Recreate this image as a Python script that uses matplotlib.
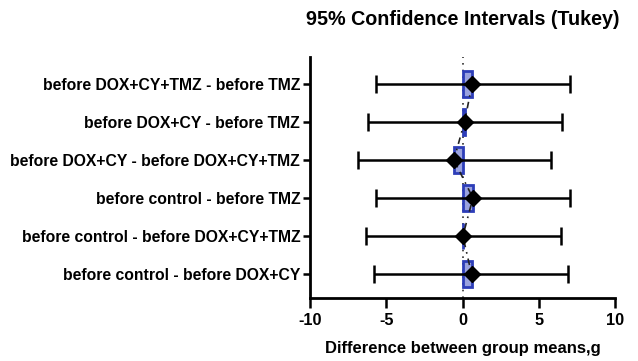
import matplotlib
matplotlib.use("Agg")
import matplotlib.pyplot as plt
import numpy as np

plt.rcParams['font.family'] = ['Liberation Sans', 'DejaVu Sans']
plt.rcParams['font.weight'] = 'bold'
plt.rcParams['axes.unicode_minus'] = False

labels = [
    "before DOX+CY+TMZ - before TMZ",
    "before DOX+CY - before TMZ",
    "before DOX+CY - before DOX+CY+TMZ",
    "before control - before TMZ",
    "before control - before DOX+CY+TMZ",
    "before control - before DOX+CY",
]
means = [0.63, 0.13, -0.57, 0.68, 0.02, 0.59]
lower = [-5.66, -6.18, -6.86, -5.66, -6.36, -5.84]
upper = [7.04, 6.49, 5.81, 7.04, 6.43, 6.93]

fig = plt.figure(figsize=(6.38, 3.61), dpi=100)
ax = fig.add_axes([0.486, 0.1745, 0.478, 0.667])

n = len(labels)
ypos = np.arange(n, 0, -1)
means_a = np.array(means)
lo = means_a - np.array(lower)
hi = np.array(upper) - means_a

ax.axvline(0, color='#333333', linestyle=(0, (1, 3)), lw=1.2, zorder=1)
ax.barh(ypos, means_a, height=0.68, color='#9aa2de', edgecolor='#2d3db8', lw=2, zorder=2)
ax.plot(means_a, ypos, color='#222222', linestyle=(0, (4, 3, 1, 3)), lw=1.2, zorder=3)
ax.errorbar(means_a, ypos, xerr=[lo, hi], fmt='D', color='black', ms=8,
            ecolor='black', elinewidth=1.8, capsize=6.5, capthick=1.8, zorder=4)

ax.set_xlim(-10, 10)
ax.set_ylim(0.37, 6.70)
ax.set_xticks([-10, -5, 0, 5, 10])
ax.set_yticks(ypos)
ax.set_yticklabels(labels)
ax.tick_params(axis='y', labelsize=11.3, width=1.8, length=5, direction='out', pad=2)
ax.tick_params(axis='x', labelsize=11.8, width=1.8, length=7, direction='out', pad=4)
for s in ['top', 'right']:
    ax.spines[s].set_visible(False)
for s in ['left', 'bottom']:
    ax.spines[s].set_linewidth(2)

ax.set_xlabel("Difference between group means,g", fontsize=12, fontweight='bold', labelpad=9)
ax.set_title("95% Confidence Intervals (Tukey)", fontsize=14.2, fontweight='bold', pad=23)

fig.savefig("out.png", dpi=100)
